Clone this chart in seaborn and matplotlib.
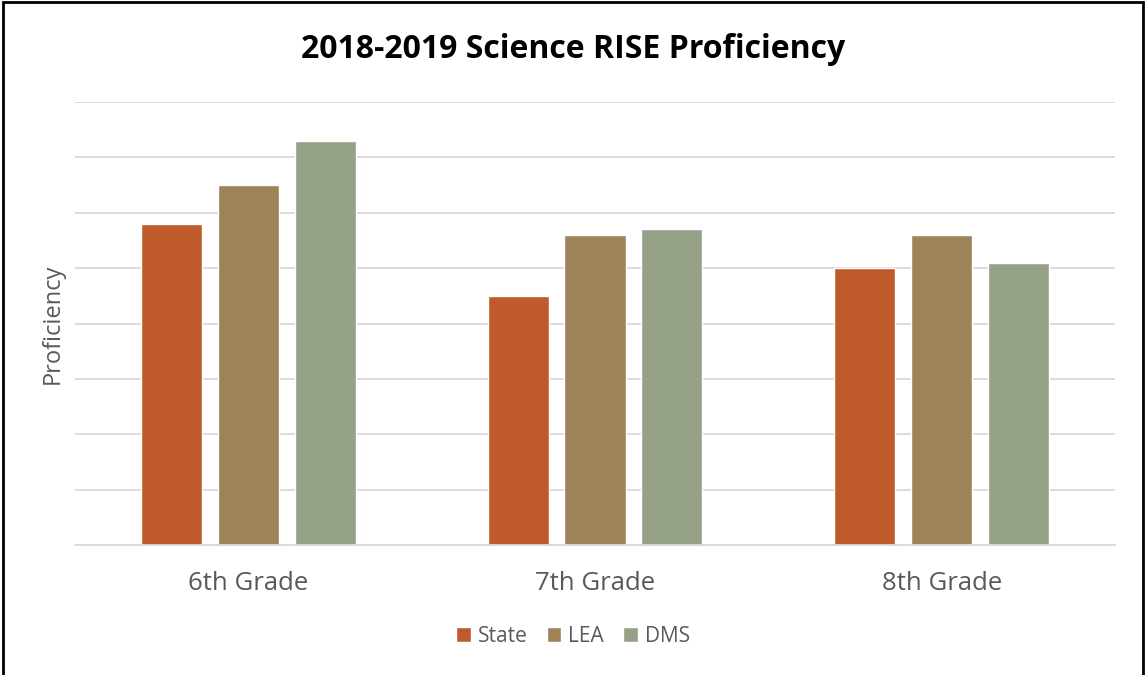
import matplotlib
matplotlib.use("Agg")
import matplotlib.pyplot as plt
import seaborn as sns
import pandas as pd
from matplotlib.patches import Rectangle, Patch

grades = ["6th Grade", "7th Grade", "8th Grade"]
series = ["State", "LEA", "DMS"]
state = [58, 45, 50]
lea = [65, 56, 56]
dms = [73, 57, 51]
colors = ["#BE5A2C", "#9C8458", "#95A287"]

rows = []
for s, vals in zip(series, [state, lea, dms]):
    for g, v in zip(grades, vals):
        rows.append({"Grade": g, "Series": s, "Value": v})
df = pd.DataFrame(rows)

sns.set_style("white")
plt.rcParams['font.family'] = ['Open Sans', 'DejaVu Sans']

fig = plt.figure(figsize=(11.46, 6.75), dpi=100)
ax = fig.add_axes([75/1146, 1-545/675, (1115-75)/1146, (545-102)/675])
sns.barplot(data=df, x="Grade", y="Value", hue="Series", palette=colors,
            width=0.666, gap=0.207, ax=ax, saturation=1, legend=False)
ax.set_ylim(0, 80)
ax.set_xlim(-0.5, 2.5)
ax.set_yticks(range(0, 81, 10))
ax.set_yticklabels([])
ax.tick_params(axis='y', length=0)
ax.tick_params(axis='x', length=0, labelsize=18.5, labelcolor="#595959", pad=19)
ax.yaxis.grid(True, color="#D9D9D9", linewidth=1.3)
ax.set_axisbelow(True)
for sp in ["top", "right", "left"]:
    ax.spines[sp].set_visible(False)
ax.spines["bottom"].set_color("#D9D9D9")
ax.spines["bottom"].set_linewidth(1.3)
ax.set_xlabel("")
ax.set_ylabel("Proficiency", fontsize=17, color="#595959", labelpad=4)

fig.text(0.5, 1-49/675, "2018-2019 Science RISE Proficiency", ha="center", va="center",
         fontsize=23, fontweight="bold", color="black")

handles = [Patch(facecolor=c, label=s) for c, s in zip(colors, series)]
leg = fig.legend(handles=handles, loc="center", bbox_to_anchor=(0.5, 1-636/675), ncol=3,
                 frameon=False, fontsize=15, handlelength=0.7, handleheight=0.7,
                 handletextpad=0.35, columnspacing=0.9, labelcolor="#595959")

fig.add_artist(Rectangle((0.003, -0.01), 0.994, 1.0 - 0.003 + 0.01, transform=fig.transFigure,
                         fill=False, edgecolor="black", linewidth=2))
fig.savefig("out.png", dpi=100)
